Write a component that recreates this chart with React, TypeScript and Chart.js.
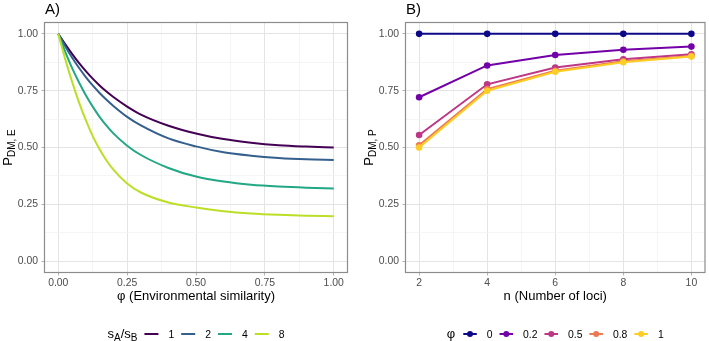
import React, { useEffect, useRef } from "react";
import { Chart, registerables } from "chart.js";

Chart.register(...registerables);

// ---- Panel A: P(DM,E) against environmental similarity, one curve per sA/sB ----
const similarity = [0, 0.025, 0.05, 0.075, 0.1, 0.125, 0.15, 0.175, 0.2, 0.25, 0.3, 0.4, 0.5, 0.6, 0.7, 0.8, 0.9, 1.0];
const ratioLabels = ["1", "2", "4", "8"];
const ratio1 = [1, 0.955, 0.912, 0.872, 0.836, 0.803, 0.773, 0.746, 0.722, 0.68, 0.645, 0.596, 0.562, 0.537, 0.521, 0.51, 0.504, 0.5];
const ratio2 = [1, 0.946, 0.896, 0.851, 0.81, 0.773, 0.74, 0.71, 0.683, 0.635, 0.597, 0.54, 0.505, 0.479, 0.464, 0.454, 0.448, 0.445];
const ratio4 = [1, 0.922, 0.85, 0.787, 0.73, 0.68, 0.635, 0.596, 0.562, 0.508, 0.467, 0.41, 0.372, 0.35, 0.336, 0.328, 0.323, 0.32];
const ratio8 = [1, 0.89, 0.79, 0.7, 0.62, 0.55, 0.492, 0.443, 0.403, 0.342, 0.302, 0.258, 0.236, 0.22, 0.21, 0.204, 0.2, 0.198];
const ratioSeries = [ratio1, ratio2, ratio4, ratio8];
const ratioColors = ["#440154", "#35608D", "#22A884", "#BBDF27"];

// ---- Panel B: P(DM,P) against number of loci, one line per phi ----
const loci = [2, 4, 6, 8, 10];
const phiLabels = ["0", "0.2", "0.5", "0.8", "1"];
const phi0 = [1, 1, 1, 1, 1];
const phi02 = [0.721, 0.861, 0.907, 0.93, 0.944];
const phi05 = [0.555, 0.778, 0.852, 0.888, 0.91];
const phi08 = [0.51, 0.757, 0.838, 0.879, 0.903];
const phi1 = [0.5, 0.75, 0.833, 0.875, 0.9];
const phiSeries = [phi0, phi02, phi05, phi08, phi1];
const phiColors = ["#0D0887", "#7301A8", "#BD3786", "#ED7953", "#FCCE25"];

// ---- Axis ticks ----
const probTicks = [0, 0.25, 0.5, 0.75, 1];
const probTickLabels = ["0.00", "0.25", "0.50", "0.75", "1.00"];
const simTicks = [0, 0.25, 0.5, 0.75, 1];
const simTickLabels = ["0.00", "0.25", "0.50", "0.75", "1.00"];
const lociTicks = [2, 4, 6, 8, 10];
const lociTickLabels = ["2", "4", "6", "8", "10"];

const FONT = '"Liberation Sans", Arial, Helvetica, sans-serif';
const GRID_MAJOR = "#E4E4E4";
const GRID_MINOR = "#F0F0F0";
const TICK_COLOR = "#B3B3B3";
const BORDER_COLOR = "#8C8C8C";
const TICK_TEXT = "#4D4D4D";

const W = 709;
const H = 341;

type Part = { text: string; sub?: boolean };

function near(a: number, b: number) {
  return Math.abs(a - b) < 1e-9;
}

function makeScale(min: number, max: number, majors: number[], labels: string[], size: number, isX: boolean) {
  const minors = majors.slice(1).map((v, i) => (v + majors[i]) / 2);
  const all = [...majors, ...minors].sort((a, b) => a - b);
  const isMajor = (v: number) => majors.some((m) => near(m, v));
  return {
    type: "linear",
    min,
    max,
    afterBuildTicks: (s: any) => {
      s.ticks = all.map((v) => ({ value: v }));
    },
    afterFit: (s: any) => {
      if (isX) s.height = size;
      else s.width = size;
    },
    grid: {
      color: (c: any) => (c.tick && isMajor(c.tick.value) ? GRID_MAJOR : GRID_MINOR),
      lineWidth: (c: any) => (c.tick && isMajor(c.tick.value) ? 1 : 0.7),
      tickColor: (c: any) => (c.tick && isMajor(c.tick.value) ? TICK_COLOR : "rgba(0,0,0,0)"),
      tickLength: 3,
      drawTicks: true,
    },
    border: { display: false },
    ticks: {
      autoSkip: false,
      maxRotation: 0,
      minRotation: 0,
      padding: isX ? 1.5 : 3.5,
      color: TICK_TEXT,
      font: { family: FONT, size: 10.4 },
      callback: (v: any) => {
        const i = majors.findIndex((m) => near(m, Number(v)));
        return i >= 0 ? labels[i] : "";
      },
    },
  };
}

function richWidth(ctx: CanvasRenderingContext2D, parts: Part[], main: number, sub: number) {
  let w = 0;
  for (const p of parts) {
    ctx.font = `${p.sub ? sub : main}px ${FONT}`;
    w += ctx.measureText(p.text).width;
  }
  return w;
}

function drawRich(ctx: CanvasRenderingContext2D, parts: Part[], x: number, y: number, main: number, sub: number) {
  let cx = x;
  for (const p of parts) {
    ctx.font = `${p.sub ? sub : main}px ${FONT}`;
    ctx.fillText(p.text, cx, p.sub ? y + 3 : y);
    cx += ctx.measureText(p.text).width;
  }
  return cx - x;
}

type Decor = {
  tag: string;
  xTitle: string;
  yTitle: Part[];
  legendTitle: Part[];
  legendLabels: string[];
  legendColors: string[];
  keyWidth: number;
  titleGap: number;
  withPoints: boolean;
};

function decorPlugin(d: Decor) {
  return {
    id: "panelDecor",
    afterDraw(chart: any) {
      const ctx: CanvasRenderingContext2D = chart.ctx;
      const a = chart.chartArea;
      const cxMid = (a.left + a.right) / 2;
      ctx.save();

      // panel frame
      ctx.strokeStyle = BORDER_COLOR;
      ctx.lineWidth = 1.2;
      ctx.strokeRect(a.left, a.top, a.right - a.left, a.bottom - a.top);

      ctx.fillStyle = "#000";
      ctx.textBaseline = "alphabetic";

      // panel tag
      ctx.textAlign = "left";
      ctx.font = `15px ${FONT}`;
      ctx.fillText(d.tag, a.left + 0.5, 14);

      // x axis title
      ctx.textAlign = "center";
      ctx.font = `13px ${FONT}`;
      ctx.fillText(d.xTitle, cxMid, 299.5);

      // y axis title with subscript
      ctx.textAlign = "left";
      const yw = richWidth(ctx, d.yTitle, 13, 10);
      ctx.save();
      ctx.translate(a.left - 32.5, (a.top + a.bottom) / 2);
      ctx.rotate(-Math.PI / 2);
      drawRich(ctx, d.yTitle, -yw / 2, 0, 13, 10);
      ctx.restore();

      // legend
      const labelFont = `10.4px ${FONT}`;
      const tw = richWidth(ctx, d.legendTitle, 13, 10);
      ctx.font = labelFont;
      const lw = d.legendLabels.map((t) => ctx.measureText(t).width);
      const gapKeyLabel = 10;
      const gapItem = 7;
      let total = tw + d.titleGap;
      lw.forEach((w, i) => {
        total += d.keyWidth + gapKeyLabel + w + (i < lw.length - 1 ? gapItem : 0);
      });
      let x = cxMid - total / 2;
      const base = 338;
      const keyY = 334;
      ctx.fillStyle = "#000";
      drawRich(ctx, d.legendTitle, x, base, 13, 10);
      x += tw + d.titleGap;
      d.legendLabels.forEach((t, i) => {
        ctx.strokeStyle = d.legendColors[i];
        ctx.lineWidth = 2;
        ctx.beginPath();
        ctx.moveTo(x, keyY);
        ctx.lineTo(x + d.keyWidth, keyY);
        ctx.stroke();
        if (d.withPoints) {
          ctx.fillStyle = d.legendColors[i];
          ctx.beginPath();
          ctx.arc(x + d.keyWidth / 2, keyY, 3, 0, Math.PI * 2);
          ctx.fill();
        }
        x += d.keyWidth + gapKeyLabel;
        ctx.fillStyle = "#000";
        ctx.font = labelFont;
        ctx.fillText(t, x, base);
        x += lw[i] + gapItem;
      });

      ctx.restore();
    },
  };
}

function PanelA() {
  const ref = useRef<HTMLCanvasElement>(null);
  useEffect(() => {
    if (!ref.current) return;
    const chart = new Chart(ref.current, {
      type: "line",
      data: {
        datasets: ratioSeries.map((ys, i) => ({
          label: ratioLabels[i],
          data: similarity.map((x, j) => ({ x, y: ys[j] })),
          borderColor: ratioColors[i],
          backgroundColor: ratioColors[i],
          borderWidth: 2,
          pointRadius: 0,
          cubicInterpolationMode: "monotone",
          order: ratioSeries.length - i,
        })),
      },
      options: {
        animation: false,
        responsive: false,
        devicePixelRatio: 1,
        layout: { padding: { top: 22.5, right: 7.5, left: 0, bottom: 0 } },
        plugins: { legend: { display: false }, tooltip: { enabled: false } },
        scales: {
          x: makeScale(-0.05, 1.05, simTicks, simTickLabels, 68.5, true),
          y: makeScale(-0.05, 1.05, probTicks, probTickLabels, 44.5, false),
        },
      } as any,
      plugins: [
        decorPlugin({
          tag: "A)",
          xTitle: "\u03C6 (Environmental similarity)",
          yTitle: [{ text: "P" }, { text: "DM, E", sub: true }],
          legendTitle: [{ text: "s" }, { text: "A", sub: true }, { text: "/s" }, { text: "B", sub: true }],
          legendLabels: ratioLabels,
          legendColors: ratioColors,
          keyWidth: 14,
          titleGap: 7,
          withPoints: false,
        }),
      ],
    });
    return () => chart.destroy();
  }, []);
  return <canvas ref={ref} width={355} height={H} style={{ position: "absolute", left: 0, top: 0 }} />;
}

function PanelB() {
  const ref = useRef<HTMLCanvasElement>(null);
  useEffect(() => {
    if (!ref.current) return;
    const chart = new Chart(ref.current, {
      type: "line",
      data: {
        datasets: phiSeries.map((ys, i) => ({
          label: phiLabels[i],
          data: loci.map((x, j) => ({ x, y: ys[j] })),
          borderColor: phiColors[i],
          backgroundColor: phiColors[i],
          pointBackgroundColor: phiColors[i],
          pointBorderWidth: 0,
          pointRadius: 3.3,
          borderWidth: 2,
          tension: 0,
          order: phiSeries.length - i,
        })),
      },
      options: {
        animation: false,
        responsive: false,
        devicePixelRatio: 1,
        layout: { padding: { top: 22.5, right: 0.5, left: 0, bottom: 0 } },
        plugins: { legend: { display: false }, tooltip: { enabled: false } },
        scales: {
          x: makeScale(1.6, 10.4, lociTicks, lociTickLabels, 68.5, true),
          y: makeScale(-0.05, 1.05, probTicks, probTickLabels, 50.5, false),
        },
      } as any,
      plugins: [
        decorPlugin({
          tag: "B)",
          xTitle: "n (Number of loci)",
          yTitle: [{ text: "P" }, { text: "DM, P", sub: true }],
          legendTitle: [{ text: "\u03C6" }],
          legendLabels: phiLabels,
          legendColors: phiColors,
          keyWidth: 13.5,
          titleGap: 8,
          withPoints: true,
        }),
      ],
    });
    return () => chart.destroy();
  }, []);
  return <canvas ref={ref} width={W - 355} height={H} style={{ position: "absolute", left: 355, top: 0 }} />;
}

export default function App() {
  return (
    <div style={{ position: "fixed", left: 0, top: 0, width: W, height: H, background: "#fff", overflow: "hidden" }}>
      <PanelA />
      <PanelB />
    </div>
  );
}
